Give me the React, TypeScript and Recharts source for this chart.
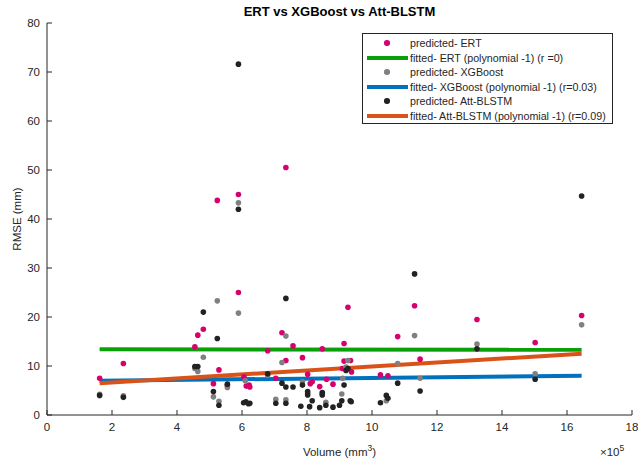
import React from 'react';
import { ScatterChart, Scatter, XAxis, YAxis } from 'recharts';

// volume is in units of 1e5 mm^3 (axis shows the x10^5 multiplier)
const ertPoints: [number, number][] = [
  [1.62, 7.5], [2.35, 10.5], [4.55, 13.9], [4.64, 16.3], [4.81, 17.5], [5.12, 6.4],
  [5.24, 43.8], [5.29, 9.2], [5.55, 6.0], [5.89, 45.0], [5.89, 25.0], [6.06, 7.8],
  [6.13, 5.9], [6.22, 6.1], [6.24, 5.7], [6.79, 13.1], [7.04, 7.5], [7.23, 16.8],
  [7.35, 11.1], [7.35, 50.5], [7.57, 14.1], [7.86, 11.7], [8.02, 8.3], [8.1, 6.4],
  [8.16, 6.8], [8.39, 5.8], [8.47, 13.5], [8.6, 7.3], [8.8, 6.3], [9.09, 9.5],
  [9.14, 14.6], [9.14, 11.0], [9.26, 22.0], [9.34, 11.1], [9.37, 8.8], [10.26, 8.2],
  [10.49, 8.0], [10.79, 16.0], [11.31, 22.3], [11.48, 11.4], [13.23, 19.5],
  [15.02, 14.8], [16.45, 20.3],
];

const xgbPoints: [number, number][] = [
  [1.62, 4.2], [2.35, 3.9], [4.55, 9.5], [4.64, 8.9], [4.81, 11.8], [5.12, 3.7],
  [5.24, 23.3], [5.29, 2.8], [5.55, 5.6], [5.89, 43.3], [5.89, 20.8], [6.1, 7.0],
  [6.79, 8.1], [7.04, 3.2], [7.23, 10.7], [7.35, 16.1], [7.35, 3.1], [7.86, 6.8],
  [8.02, 4.4], [8.47, 4.3], [8.58, 2.6], [9.07, 4.3], [9.1, 7.5], [9.2, 9.8],
  [9.26, 11.1], [10.44, 2.9], [10.79, 10.5], [11.31, 16.2], [11.48, 7.5],
  [13.23, 14.5], [15.02, 8.4], [16.45, 18.4],
];

const attPoints: [number, number][] = [
  [1.62, 4.0], [2.35, 3.6], [4.55, 9.9], [4.64, 9.9], [4.81, 21.0], [5.12, 4.8],
  [5.24, 15.6], [5.29, 2.0], [5.55, 6.3], [5.89, 42.0], [5.89, 71.6], [6.05, 2.5],
  [6.12, 2.7], [6.2, 2.3], [6.24, 2.4], [6.79, 8.4], [7.04, 2.4], [7.23, 6.5],
  [7.35, 5.7], [7.35, 23.8], [7.35, 2.4], [7.57, 5.7], [7.81, 1.8], [7.86, 6.1],
  [8.02, 4.8], [8.02, 4.1], [8.08, 1.7], [8.16, 2.9], [8.39, 1.5], [8.47, 4.6],
  [8.47, 4.1], [8.58, 2.0], [8.8, 1.6], [9.0, 2.0], [9.07, 2.9], [9.14, 6.1],
  [9.2, 9.1], [9.26, 9.5], [9.33, 2.9], [9.36, 2.7], [10.26, 2.5], [10.44, 4.0],
  [10.49, 3.4], [10.79, 6.5], [11.31, 28.8], [11.48, 4.9], [13.23, 13.5],
  [15.02, 7.3], [16.45, 44.7],
];

// fitted line end points
const ertFit: [number, number][] = [[1.62, 13.4], [16.45, 13.3]];
const xgbFit: [number, number][] = [[1.62, 7.0], [16.45, 8.0]];
const attFit: [number, number][] = [[1.62, 6.5], [16.45, 12.5]];

const xTicks = [0, 2, 4, 6, 8, 10, 12, 14, 16, 18];
const yTicks = [0, 10, 20, 30, 40, 50, 60, 70, 80];

const legendItems = [
  { label: 'predicted- ERT', kind: 'dot', color: '#d6006e' },
  { label: 'fitted- ERT (polynomial -1) (r =0)', kind: 'line', color: '#0aa00a' },
  { label: 'predicted- XGBoost', kind: 'dot', color: '#808080' },
  { label: 'fitted- XGBoost (polynomial -1) (r=0.03)', kind: 'line', color: '#0072bd' },
  { label: 'predicted- Att-BLSTM', kind: 'dot', color: '#222222' },
  { label: 'fitted- Att-BLSTM (polynomial -1) (r=0.09)', kind: 'line', color: '#d95319' },
];

const toRows = (pts: [number, number][]) => pts.map(([x, y]) => ({ x, y }));

const AXIS = '#262626';
const FONT = '"Liberation Sans", Arial, Helvetica, sans-serif';

const dot = (color: string) => (props: any) =>
  <circle cx={props.cx} cy={props.cy} r={2.8} fill={color} />;
const noDot = () => <g />;

export default function App() {
  const tickStyle = { fill: AXIS, fontSize: 11.5, fontFamily: FONT };
  return (
    <div style={{ position: 'absolute', left: 0, top: 0, width: 638, height: 460, background: '#fff', fontFamily: FONT }}>
      <ScatterChart width={638} height={460} margin={{ top: 23, right: 6, bottom: 15, left: 0 }}>
        <XAxis xAxisId="b" type="number" dataKey="x" domain={[0, 18]} ticks={xTicks}
          height={30} tickSize={-5} tickMargin={13} tick={tickStyle}
          stroke={AXIS} tickLine={{ stroke: AXIS }} allowDataOverflow />
        <XAxis xAxisId="t" orientation="top" type="number" dataKey="x" domain={[0, 18]} ticks={xTicks}
          height={0} tickSize={-5} tickFormatter={() => ''} stroke={AXIS} allowDataOverflow />
        <YAxis yAxisId="l" type="number" dataKey="y" domain={[0, 80]} ticks={yTicks}
          width={47} tickSize={-5} tickMargin={12} tick={tickStyle}
          stroke={AXIS} tickLine={{ stroke: AXIS }} allowDataOverflow />
        <YAxis yAxisId="r" orientation="right" type="number" dataKey="y" domain={[0, 80]} ticks={yTicks}
          width={0} tickSize={-5} tickFormatter={() => ''} stroke={AXIS} allowDataOverflow />

        <Scatter xAxisId="b" yAxisId="l" data={toRows(ertFit)} line={{ stroke: '#0aa00a', strokeWidth: 4 }}
          shape={noDot} isAnimationActive={false} />
        <Scatter xAxisId="b" yAxisId="l" data={toRows(xgbFit)} line={{ stroke: '#0072bd', strokeWidth: 4 }}
          shape={noDot} isAnimationActive={false} />
        <Scatter xAxisId="b" yAxisId="l" data={toRows(attFit)} line={{ stroke: '#d95319', strokeWidth: 4 }}
          shape={noDot} isAnimationActive={false} />

        <Scatter xAxisId="b" yAxisId="l" data={toRows(ertPoints)} shape={dot('#d6006e')} isAnimationActive={false} />
        <Scatter xAxisId="b" yAxisId="l" data={toRows(xgbPoints)} shape={dot('#808080')} isAnimationActive={false} />
        <Scatter xAxisId="b" yAxisId="l" data={toRows(attPoints)} shape={dot('#222222')} isAnimationActive={false} />
      </ScatterChart>

      <div style={{ position: 'absolute', left: 0, width: 638, paddingLeft: 47, paddingRight: 6, boxSizing: 'border-box',
        top: 4, textAlign: 'center', fontWeight: 'bold', fontSize: 13, color: '#000' }}>
        ERT vs XGBoost vs Att-BLSTM
      </div>
      <div style={{ position: 'absolute', left: 47, width: 585, top: 443, textAlign: 'center', fontSize: 11.5, color: AXIS }}>
        Volume (mm<sup style={{ fontSize: 8.5, verticalAlign: 5 }}>3</sup>)
      </div>
      <div style={{ position: 'absolute', left: 17, top: 219, transform: 'translate(-50%, -50%) rotate(-90deg)',
        fontSize: 11.5, color: AXIS, whiteSpace: 'nowrap' }}>
        RMSE (mm)
      </div>
      <div style={{ position: 'absolute', left: 600, top: 443, fontSize: 11.5, color: AXIS }}>
        ×10<sup style={{ fontSize: 8.5, verticalAlign: 5 }}>5</sup>
      </div>

      <div style={{ position: 'absolute', left: 362, top: 33, width: 251, height: 91, boxSizing: 'border-box',
        border: `1px solid ${AXIS}`, background: '#fff', paddingTop: 2 }}>
        {legendItems.map((it) => (
          <div key={it.label} style={{ display: 'flex', alignItems: 'center', height: 14.5, fontSize: 10.7, color: AXIS }}>
            <div style={{ width: 46, display: 'flex', justifyContent: 'center', alignItems: 'center', marginLeft: 1 }}>
              {it.kind === 'line'
                ? <div style={{ width: 41, height: 4, background: it.color }} />
                : <div style={{ width: 5.6, height: 5.6, borderRadius: '50%', background: it.color }} />}
            </div>
            <span style={{ whiteSpace: 'nowrap' }}>{it.label}</span>
          </div>
        ))}
      </div>
    </div>
  );
}
